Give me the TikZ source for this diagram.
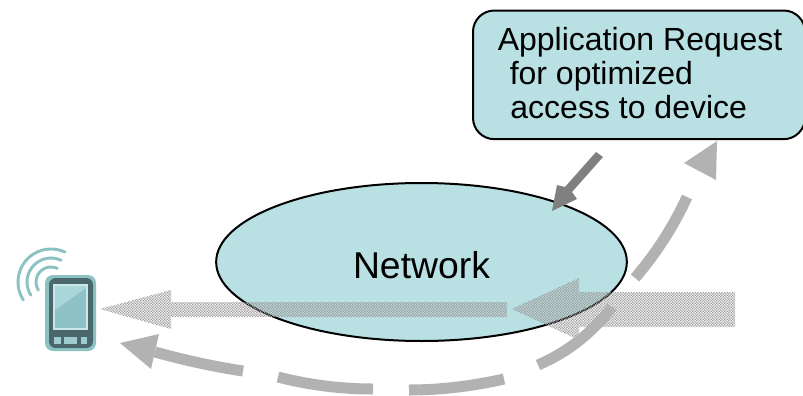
\documentclass[tikz,border=0pt]{standalone}
\usepackage{fontspec}
\setmainfont{Liberation Sans}
\usetikzlibrary{patterns,shapes.geometric}
\definecolor{tealfill}{HTML}{B9E0E3}
\definecolor{dashgray}{HTML}{B2B2B2}
\definecolor{midgray}{HTML}{808080}
\definecolor{phoneteal}{HTML}{8CC2C2}
\definecolor{phonedark}{HTML}{4A686C}
\definecolor{screenteal}{HTML}{8FC2C6}
\definecolor{screenlight}{HTML}{A9D6D8}
\pgfdeclarepatternformonly{fineweave}{\pgfqpoint{-0.1pt}{-0.1pt}}{\pgfqpoint{2.1pt}{2.1pt}}{\pgfqpoint{2pt}{2pt}}{%
  \pgfpathrectangle{\pgfqpoint{0pt}{0pt}}{\pgfqpoint{1pt}{1pt}}%
  \pgfpathrectangle{\pgfqpoint{1pt}{1pt}}{\pgfqpoint{1pt}{1pt}}%
  \pgfusepath{fill}}
\tikzset{
  blockarrow/.style={pattern=fineweave,pattern color=black!38,draw=none},
  dashpiece/.style={draw=dashgray,line width=8.25pt},
  dashhead/.style={fill=dashgray,draw=none},
  wave/.style={draw=phoneteal,line width=2.2pt,line cap=round},
  tealshape/.style={fill=tealfill,draw=black,line width=1.5pt},
}
\begin{document}
\begin{tikzpicture}[x=0.75pt,y=-0.75pt]
\useasboundingbox (0,0) rectangle (803,396);
\clip (0,0) rectangle (803,396);
% network and request box
\node[tealshape,ellipse,minimum width=308pt,minimum height=118.5pt,inner sep=0pt] (network) at (421.5,262) {};
\node[font=\fontsize{28}{32}\selectfont,anchor=base,inner sep=0pt] (networklabel) at (421.5,278) {Network};
\node[tealshape,rounded corners=16pt,minimum width=249pt,minimum height=96.5pt,inner sep=0pt,anchor=north west] (request) at (472,9.5) {};
\node[font=\fontsize{24}{25.6}\selectfont,align=left,anchor=north west,inner sep=0pt] (requestlabel) at (497.5,27) {Application Request\\\hspace*{9pt}for optimized\\\hspace*{9.5pt}access to device};
% hatched arrows
\path[blockarrow] (735,292) -- (579,292) -- (579,278) -- (512,309) -- (579,340) -- (579,327) -- (735,327) -- cycle;
\path[blockarrow] (507,302) -- (171,302) -- (171,290) -- (100,309) -- (171,329) -- (171,317) -- (507,317) -- cycle;
% request arrow
\fill[midgray] (596,152) -- (603,157) -- (572,192) -- (577,199) -- (552,211) -- (557,185) -- (565,187) -- cycle;
% dashed curved arrow
\fill[dashhead] (717,141) -- (684,163) -- (716,180) -- cycle;
\draw[dashpiece] (687,197) .. controls (673.5,226.5) and (656,253.5) .. (635,278);
\draw[dashpiece] (612,307) .. controls (592,333) and (568,352) .. (538,365);
\draw[dashpiece] (504,379) .. controls (473,386) and (441,390) .. (409,390);
\draw[dashpiece] (373,389) .. controls (341,389) and (309,385) .. (278,377);
\draw[dashpiece] (243,371) .. controls (213,366.5) and (184,360) .. (155,352);
\fill[dashhead] (120,343) -- (159,334) -- (151,369) -- cycle;
% device
\fill[phoneteal,rounded corners=6pt] (45,275) rectangle (96,351);
\fill[phonedark,rounded corners=5pt] (49,278) rectangle (93,348);
\fill[screenlight!60!white] (53,284) rectangle (88,330);
\fill[screenteal] (55,286) rectangle (86,328);
\fill[screenlight] (55,286) -- (86,286) -- (86,288) -- (55,310) -- cycle;
\fill[screenteal!85!white] (54,337) rectangle (61,344);
\fill[screenteal!85!white] (64,337) rectangle (77,344);
\fill[screenteal!85!white] (81,337) rectangle (87,344);
\draw[wave] ([shift={(-65:33)}]51,282) arc[start angle=-65,end angle=-213,radius=33];
\draw[wave] ([shift={(-65:24)}]51,282) arc[start angle=-65,end angle=-213,radius=24];
\draw[wave] ([shift={(-65:15)}]51,282) arc[start angle=-65,end angle=-213,radius=15];
\end{tikzpicture}
\end{document}
